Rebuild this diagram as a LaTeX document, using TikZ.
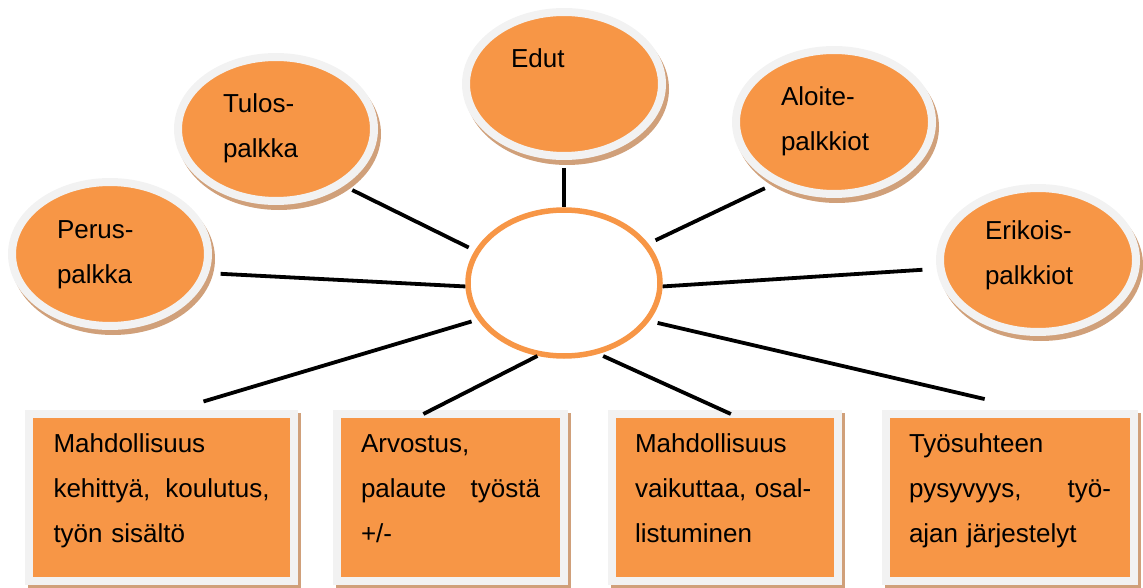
\documentclass[tikz,border=0pt]{standalone}
\usepackage{fontspec}
\setmainfont{Liberation Sans}
\usetikzlibrary{shapes.geometric,shadows}
\definecolor{oranssi}{HTML}{F79646}
\definecolor{reuna}{HTML}{F2F2F2}
\definecolor{varjo}{HTML}{D0A07A}
\tikzset{
    teksti/.style={font=\fontsize{26}{45}\selectfont, align=left, inner sep=0pt},
    pallo/.style={teksti, ellipse, fill=oranssi, draw=reuna, line width=8pt,
        minimum width=196pt, minimum height=144pt, text width=106pt,
        text height=19pt, text depth=51pt,
        drop shadow={shadow xshift=3pt, shadow yshift=-5pt, fill=varjo, draw=varjo, line width=8pt, opacity=1}},
    laatikko/.style={teksti, rectangle, fill=oranssi, draw=reuna, line width=8pt,
        outer sep=0pt, minimum height=167pt, text height=20pt, text depth=110pt,
        drop shadow={shadow xshift=3pt, shadow yshift=-3pt, fill=varjo, draw=varjo, line width=8pt, opacity=1}},
    keskus/.style={ellipse, draw=oranssi, fill=white, line width=5.5pt,
        minimum width=192pt, minimum height=146pt},
    viiva/.style={line width=3.8pt, black}
}
\begin{document}
\begin{tikzpicture}[x=1pt, y=-1pt]
    \useasboundingbox (0,0) rectangle (1143,588);

    % keskimmainen soikio
    \node[keskus] (hub) at (564,283) {};

    % palkkiot
    \node[pallo] (perus) at (110,254) {Perus-\\palkka};
    \node[pallo] (tulos) at (276,129) {Tulos-\\palkka};
    \node[pallo] (edut) at (564,84) {Edut};
    \node[pallo] (aloite) at (834,122) {Aloite-\\palkkiot};
    \node[pallo, text depth=59pt] (erikois) at (1038,260) {Erikois-\\palkkiot};

    % muut tekijat
    \node[laatikko, minimum width=265pt, text width=216pt] (box1) at (161.5,497.5)
        {Mahdollisuus\\kehittyä,\hfill koulutus,\\työn sisältö};
    \node[laatikko, minimum width=227pt, text width=179pt] (box2) at (450.5,497.5)
        {Arvostus,\\palaute\hfill työstä\\+/-};
    \node[laatikko, minimum width=226pt, text width=180pt] (box3) at (725,497.5)
        {Mahdollisuus\\vaikuttaa, osal-\\listuminen};
    \node[laatikko, minimum width=248pt, text width=202pt] (box4) at (1010,497.5)
        {Työsuhteen\\pysyvyys,\hfill työ-\\ajan järjestelyt};

    % viivat
    \draw[viiva, shorten <=11.9pt] (perus.-11) -- (hub.182);
    \draw[viiva, shorten <=9.5pt, shorten >=6.8pt] (tulos.-40) -- (hub.160);
    \draw[viiva, shorten <=8pt] (edut.south) -- (hub.north);
    \draw[viiva, shorten <=10.6pt, shorten >=7.9pt] (aloite.226) -- (hub.25);
    \draw[viiva, shorten <=14.3pt] (erikois.185) -- (hub.-2);
    \draw[viiva, shorten <=43.8pt, shorten >=6.3pt] (box1.north) -- (hub.203);
    \draw[viiva] (box2.108) -- (hub.250);
    \draw[viiva, shorten <=5pt] (hub.-64) -- (box3.86);
    \draw[viiva, shorten <=8.4pt, shorten >=66pt] (hub.-24) -- (box4.65);
\end{tikzpicture}
\end{document}
